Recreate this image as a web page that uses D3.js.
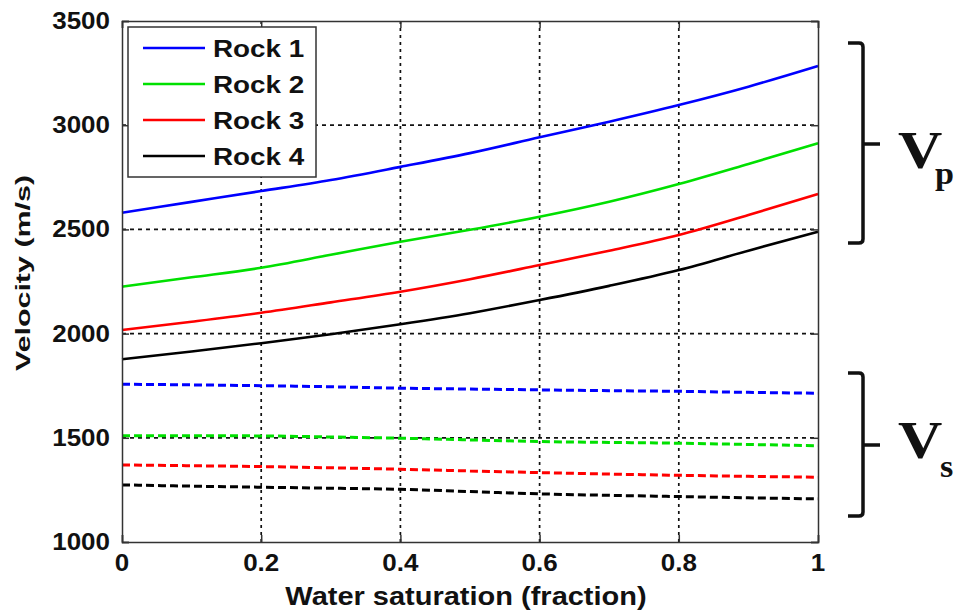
<!DOCTYPE html>
<html>
<head>
<meta charset="utf-8">
<script src="https://cdn.jsdelivr.net/npm/d3@7"></script>
<style>
  html, body { margin: 0; padding: 0; background: #fff; }
  svg { display: block; }
</style>
</head>
<body>
<svg id="chart" width="963" height="614"></svg>
<script>
// Water saturation samples (fraction)
const saturation = [0, 0.1, 0.2, 0.3, 0.4, 0.5, 0.6, 0.7, 0.8, 0.9, 1.0];

// P-wave velocity (m/s) per rock
const vpRock1 = [2580, 2632, 2684, 2737, 2800, 2866, 2942, 3017, 3097, 3185, 3284];
const vpRock2 = [2225, 2270, 2316, 2378, 2441, 2498, 2561, 2633, 2718, 2814, 2913];
const vpRock3 = [2017, 2057, 2100, 2150, 2201, 2261, 2329, 2398, 2473, 2569, 2670];
const vpRock4 = [1877, 1914, 1954, 1997, 2045, 2098, 2161, 2229, 2305, 2398, 2489];

// S-wave velocity (m/s) per rock
const vsRock1 = [1757, 1754, 1750, 1745, 1738, 1734, 1730, 1726, 1723, 1718, 1714];
const vsRock2 = [1510, 1510, 1509, 1504, 1498, 1490, 1482, 1478, 1474, 1468, 1462];
const vsRock3 = [1370, 1366, 1362, 1356, 1349, 1341, 1333, 1326, 1320, 1315, 1311];
const vsRock4 = [1274, 1268, 1263, 1258, 1253, 1242, 1231, 1224, 1218, 1212, 1207];

const rockNames = ["Rock 1", "Rock 2", "Rock 3", "Rock 4"];
const rockColors = ["#0000ff", "#00e000", "#ff0000", "#000000"];

const xTicks = [0, 0.2, 0.4, 0.6, 0.8, 1];
const xTickLabels = ["0", "0.2", "0.4", "0.6", "0.8", "1"];
const yTicks = [1000, 1500, 2000, 2500, 3000, 3500];

const svg = d3.select("#chart");
const plotLeft = 122, plotRight = 818, plotTop = 21, plotBottom = 542;

const x = d3.scaleLinear().domain([0, 1]).range([plotLeft, plotRight]);
const y = d3.scaleLinear().domain([1000, 3500]).range([plotBottom, plotTop]);

const STRETCH = 1.13;
const sans = "'Liberation Sans', Arial, sans-serif";
const serif = "'Liberation Serif', 'Times New Roman', serif";

// text helper with the slightly widened lettering of the figure
function label(g, str, px, py, opts) {
  const o = Object.assign({size: 24, anchor: "start", weight: "bold", family: sans, sx: STRETCH, rotate: 0}, opts || {});
  return g.append("text")
    .attr("transform", `translate(${px},${py}) rotate(${o.rotate}) scale(${o.sx},1)`)
    .attr("text-anchor", o.anchor)
    .attr("font-family", o.family)
    .attr("font-weight", o.weight)
    .attr("font-size", o.size)
    .attr("fill", "#111")
    .text(str);
}

// grid lines
const grid = svg.append("g");
grid.selectAll("line.gx").data(xTicks.slice(1, -1)).join("line")
  .attr("x1", d => x(d)).attr("x2", d => x(d))
  .attr("y1", plotTop).attr("y2", plotBottom)
  .attr("stroke", "#111").attr("stroke-width", 1.7).attr("stroke-dasharray", "3,4");
grid.selectAll("line.gy").data(yTicks.slice(1, -1)).join("line")
  .attr("x1", plotLeft).attr("x2", plotRight)
  .attr("y1", d => y(d)).attr("y2", d => y(d))
  .attr("stroke", "#111").attr("stroke-width", 1.7).attr("stroke-dasharray", "4,4");

// series
const line = d3.line().x((d, i) => x(saturation[i])).y(d => y(d)).curve(d3.curveMonotoneX);
const vpSets = [vpRock1, vpRock2, vpRock3, vpRock4];
const vsSets = [vsRock1, vsRock2, vsRock3, vsRock4];
const series = svg.append("g").attr("fill", "none");
vpSets.forEach((vals, i) => {
  series.append("path").attr("d", line(vals))
    .attr("stroke", rockColors[i]).attr("stroke-width", 2.6);
});
vsSets.forEach((vals, i) => {
  series.append("path").attr("d", line(vals))
    .attr("stroke", rockColors[i]).attr("stroke-width", 3)
    .attr("stroke-dasharray", "8,4");
});

// axes with inward ticks on all four sides
const axG = svg.append("g");
const tickLen = 7;
axG.append("g").attr("transform", `translate(0,${plotBottom})`)
  .call(d3.axisBottom(x).tickValues(xTicks).tickSize(-tickLen).tickFormat(""));
axG.append("g").attr("transform", `translate(0,${plotTop})`)
  .call(d3.axisTop(x).tickValues(xTicks).tickSize(-tickLen).tickFormat(""));
axG.append("g").attr("transform", `translate(${plotLeft},0)`)
  .call(d3.axisLeft(y).tickValues(yTicks).tickSize(-tickLen).tickFormat(""));
axG.append("g").attr("transform", `translate(${plotRight},0)`)
  .call(d3.axisRight(y).tickValues(yTicks).tickSize(-tickLen).tickFormat(""));
axG.selectAll(".domain").attr("stroke", "#333").attr("stroke-width", 1.5);
axG.selectAll(".tick line").attr("stroke", "#333").attr("stroke-width", 1.5);

// tick labels
const tl = svg.append("g");
xTicks.forEach((v, i) => label(tl, xTickLabels[i], x(v), 571, {anchor: "middle", size: 23}));
yTicks.forEach(v => label(tl, String(v), 110, y(v) + 8, {anchor: "end", size: 23}));

// axis titles
label(svg, "Water saturation (fraction)", 466, 605, {anchor: "middle", size: 25, sx: 1.16});
label(svg, "Velocity (m/s)", 30, 273, {anchor: "middle", size: 21, rotate: -90, sx: 1.45});

// legend
const lg = svg.append("g");
lg.append("rect").attr("x", 128).attr("y", 27).attr("width", 188).attr("height", 150)
  .attr("fill", "#fff").attr("stroke", "#333").attr("stroke-width", 1.5);
rockNames.forEach((name, i) => {
  const ry = 48 + i * 36;
  lg.append("line").attr("x1", 143).attr("x2", 205).attr("y1", ry).attr("y2", ry)
    .attr("stroke", rockColors[i]).attr("stroke-width", 2.6);
  label(lg, name, 213, ry + 9, {size: 24, sx: 1.16});
});

// braces marking the P-wave and S-wave groups
function brace(yTop, yBot, yMid) {
  const bx = 863, hook = 15, r = 4;
  const p = d3.path();
  p.moveTo(bx - hook, yTop);
  p.lineTo(bx - r, yTop);
  p.quadraticCurveTo(bx, yTop, bx, yTop + r);
  p.lineTo(bx, yBot - r);
  p.quadraticCurveTo(bx, yBot, bx - r, yBot);
  p.lineTo(bx - hook, yBot);
  p.moveTo(bx, yMid);
  p.lineTo(bx + 17, yMid);
  svg.append("path").attr("d", p.toString())
    .attr("fill", "none").attr("stroke", "#111").attr("stroke-width", 3.5);
}
brace(43, 243, 144);
brace(373, 516, 445);

label(svg, "V", 898, 168, {family: serif, size: 52, sx: 1.18});
label(svg, "p", 935, 184, {family: serif, size: 31, sx: 1.1});
label(svg, "V", 898, 458, {family: serif, size: 52, sx: 1.18});
label(svg, "s", 940, 477, {family: serif, size: 31, sx: 1.1});
</script>
</body>
</html>
